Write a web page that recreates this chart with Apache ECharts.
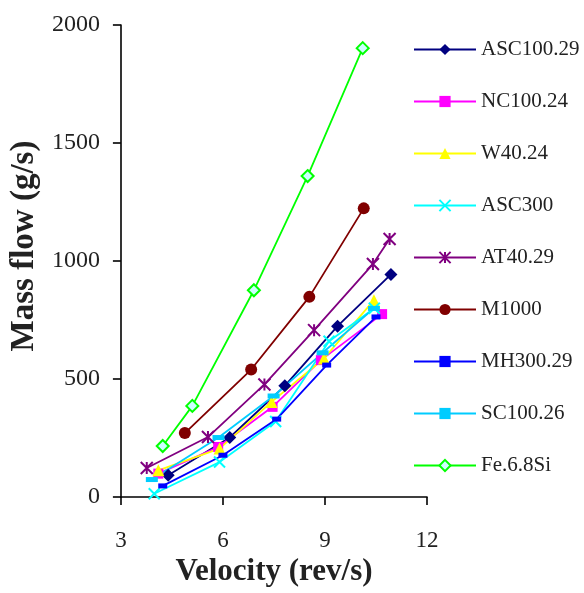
<!DOCTYPE html>
<html>
<head>
<meta charset="utf-8">
<script src="https://cdn.jsdelivr.net/npm/echarts@6/dist/echarts.min.js"></script>
<style>
  html, body { margin: 0; padding: 0; background: #fff; }
  #chart { width: 584px; height: 593px; }
</style>
</head>
<body>
<div id="chart"></div>
<script>
// Axis ticks
const xTicks = [3, 6, 9, 12];
const yTicks = [0, 500, 1000, 1500, 2000];

// Series names (legend order)
const seriesNames = ['ASC100.29', 'NC100.24', 'W40.24', 'ASC300', 'AT40.29',
                     'M1000', 'MH300.29', 'SC100.26', 'Fe.6.8Si'];

// Velocity (rev/s) and mass flow (g/s) for each material
const velASC10029 = [4.39, 6.20, 7.82, 9.37, 10.94];
const flowASC10029 = [92, 252, 471, 724, 943];

const velNC10024 = [4.10, 5.86, 7.46, 8.88, 10.68];
const flowNC10024 = [99, 212, 382, 580, 775];

const velW4024 = [4.10, 5.90, 7.43, 8.97, 10.44];
const flowW4024 = [113, 205, 403, 587, 834];

const velASC300 = [3.98, 5.90, 7.55, 9.12, 10.45];
const flowASC300 = [14, 148, 320, 660, 800];

const velAT4029 = [3.76, 5.56, 7.22, 8.68, 10.41, 10.90];
const flowAT4029 = [123, 254, 477, 707, 987, 1093];

const velM1000 = [4.88, 6.83, 8.54, 10.14];
const flowM1000 = [271, 540, 848, 1223];

const velMH30029 = [4.23, 6.00, 7.58, 9.05, 10.50];
const flowMH30029 = [47, 177, 330, 559, 763];

const velSC10026 = [3.91, 5.87, 7.49, 8.93, 10.44];
const flowSC10026 = [74, 252, 428, 611, 799];

const velFe68Si = [4.23, 5.10, 6.91, 8.49, 10.11];
const flowFe68Si = [216, 386, 876, 1360, 1902];

function pairs(xs, ys) { return xs.map((x, i) => [x, ys[i]]); }

const starPath = 'path://M0,0L10,10M10,0L0,10M5,0L5,10';
const crossPath = 'path://M0,0L10,10M10,0L0,10';

function lineSeries(name, xs, ys, color, symbol, size, extra) {
  const s = {
    name: name,
    type: 'line',
    data: pairs(xs, ys),
    symbol: symbol,
    symbolSize: size,
    lineStyle: { color: color, width: 1.8 },
    itemStyle: { color: color },
    emphasis: { disabled: true },
    animation: false
  };
  return Object.assign(s, extra || {});
}

const serif = '"Liberation Serif", "Times New Roman", serif';

const series = [
  lineSeries(seriesNames[0], velASC10029, flowASC10029, '#000080', 'diamond', 13),
  lineSeries(seriesNames[1], velNC10024, flowNC10024, '#ff00ff', 'rect', 10),
  lineSeries(seriesNames[2], velW4024, flowW4024, '#ffff00', 'triangle', 12),
  lineSeries(seriesNames[3], velASC300, flowASC300, '#00ffff', crossPath, 11,
    { itemStyle: { color: '#00ffff', borderColor: '#00ffff', borderWidth: 2 } }),
  lineSeries(seriesNames[4], velAT4029, flowAT4029, '#800080', starPath, 12,
    { itemStyle: { color: '#800080', borderColor: '#800080', borderWidth: 2 } }),
  lineSeries(seriesNames[5], velM1000, flowM1000, '#800000', 'circle', 12),
  lineSeries(seriesNames[6], velMH30029, flowMH30029, '#0000ff', 'rect', [9, 5]),
  lineSeries(seriesNames[7], velSC10026, flowSC10026, '#00ccff', 'rect', [12, 5]),
  lineSeries(seriesNames[8], velFe68Si, flowFe68Si, '#00ff00', 'diamond', 12,
    { itemStyle: { color: '#ccffff', borderColor: '#00ff00', borderWidth: 2 } })
];

const chart = echarts.init(document.getElementById('chart'), null, { renderer: 'canvas' });

chart.setOption({
  backgroundColor: '#ffffff',
  animation: false,
  grid: { left: 119, right: 157, top: 25, bottom: 96, containLabel: false },
  legend: {
    orient: 'vertical',
    left: 413,
    top: 39,
    padding: 0,
    itemWidth: 62,
    itemHeight: 14,
    itemGap: 31,
    data: seriesNames,
    textStyle: { fontFamily: serif, fontSize: 21, color: '#222' }
  },
  xAxis: {
    type: 'value',
    min: xTicks[0],
    max: xTicks[xTicks.length - 1],
    interval: 3,
    name: 'Velocity (rev/s)',
    nameLocation: 'middle',
    nameGap: 50,
    nameTextStyle: { fontFamily: serif, fontSize: 31, fontWeight: 'bold', color: '#222' },
    axisLine: { show: true, onZero: false, lineStyle: { color: '#000', width: 1.6 } },
    axisTick: { show: true, inside: false, length: 8, lineStyle: { color: '#000', width: 1.6 } },
    axisLabel: { margin: 32, fontFamily: serif, fontSize: 23, color: '#222',
                 formatter: v => String(v) },
    splitLine: { show: false }
  },
  yAxis: {
    type: 'value',
    min: yTicks[0],
    max: yTicks[yTicks.length - 1],
    interval: 500,
    name: 'Mass flow (g/s)',
    nameLocation: 'middle',
    nameGap: 62,
    nameTextStyle: { fontFamily: serif, fontSize: 33, fontWeight: 'bold', color: '#222',
                     padding: [0, 0, 0, 30] },
    axisLine: { show: true, onZero: false, lineStyle: { color: '#000', width: 1.6 } },
    axisTick: { show: true, inside: false, length: 8, lineStyle: { color: '#000', width: 1.6 } },
    axisLabel: { margin: 21, fontFamily: serif, fontSize: 24, color: '#222',
                 formatter: v => String(v) },
    splitLine: { show: false }
  },
  series: series
});
</script>
</body>
</html>
